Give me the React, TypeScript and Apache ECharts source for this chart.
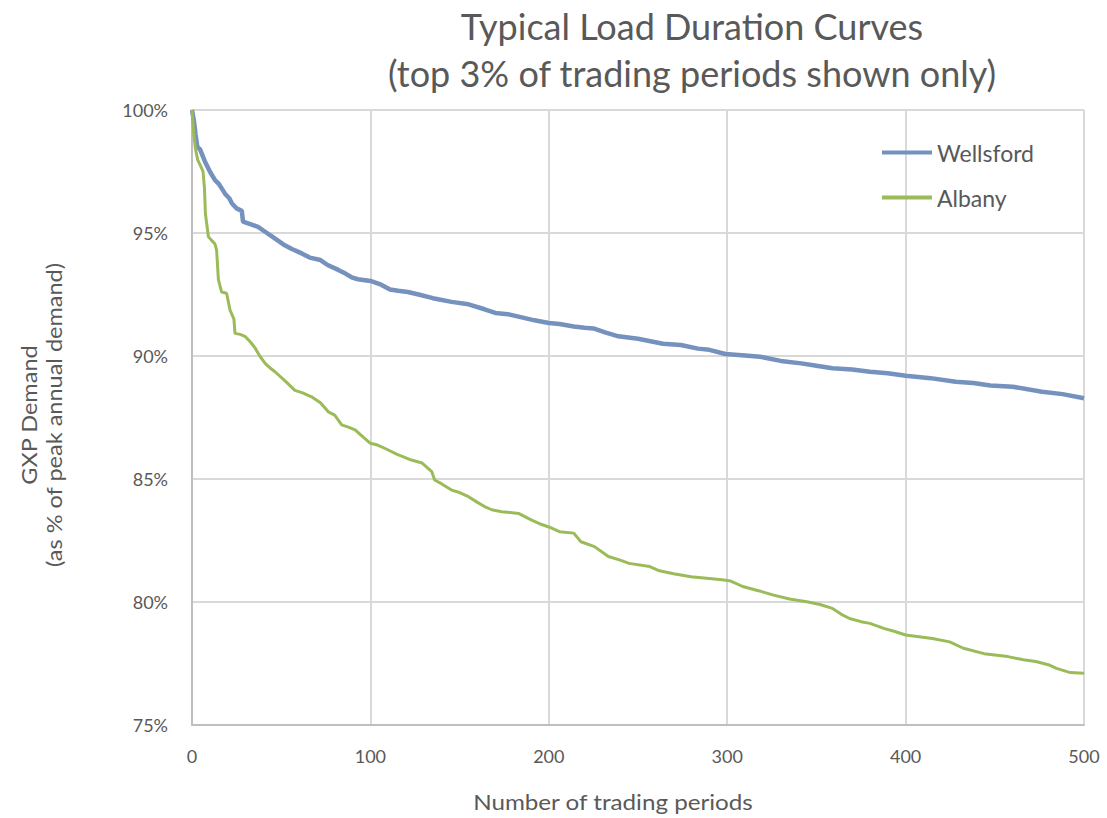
import React, { useEffect, useRef } from "react";
import * as echarts from "echarts";

const titleLines = ["Typical Load Duration Curves", "(top 3% of trading periods shown only)"];
const xAxisName = "Number of trading periods";
const yAxisName = "GXP Demand\n(as % of peak annual demand)";
const seriesNames = ["Wellsford", "Albany"];

const wellsfordX = [0, 1, 2, 3, 4.5, 7.3, 10, 12.9, 15, 18.5, 21, 22.4, 25, 27.9, 28.6, 33, 37, 41, 46, 52, 56, 61.5, 66, 72, 76, 82, 86, 89.5, 93, 100, 106, 111, 115.5, 121, 127, 135, 145.5, 155, 164, 170, 177, 183, 192, 200, 206, 214, 220, 225, 232, 239, 250, 264, 274, 283.6, 290, 299, 310, 318.5, 330, 341.5, 350, 359, 370, 380, 390, 400, 414, 428, 438, 447.5, 460, 476.5, 488, 500];
const wellsfordY = [100, 99.6, 99.0, 98.5, 98.4, 97.9, 97.5, 97.15, 97.0, 96.6, 96.4, 96.2, 96.0, 95.9, 95.46, 95.35, 95.25, 95.05, 94.8, 94.5, 94.35, 94.17, 94.0, 93.9, 93.7, 93.5, 93.35, 93.2, 93.12, 93.05, 92.9, 92.7, 92.65, 92.6, 92.5, 92.35, 92.2, 92.1, 91.9, 91.75, 91.7, 91.6, 91.45, 91.34, 91.3, 91.2, 91.15, 91.12, 90.95, 90.8, 90.7, 90.5, 90.45, 90.3, 90.25, 90.08, 90.02, 89.97, 89.8, 89.7, 89.6, 89.5, 89.45, 89.36, 89.3, 89.2, 89.1, 88.95, 88.9, 88.8, 88.75, 88.55, 88.45, 88.28];

const albanyX = [0, 1, 2, 3.2, 5, 6.2, 7.0, 7.5, 8.2, 9.2, 11, 12.9, 13.8, 14.8, 16.6, 19.4, 21.3, 23.5, 24.1, 27, 29.7, 33, 35.3, 38, 41, 44, 46.5, 52, 57.7, 62, 67, 72, 76.4, 80, 83.9, 88, 91.4, 96, 100, 104, 108, 115, 123, 129, 134.4, 136, 140, 145.5, 150, 155, 160, 164, 168, 173.6, 183, 190.4, 196, 200, 206, 214, 218, 225.6, 233.4, 240, 245, 256.6, 262, 270, 279.7, 297, 302, 308.7, 318, 326, 335, 345.4, 352, 359, 364, 368.6, 375, 380, 387.8, 394, 400, 415, 424.7, 432.4, 444, 450, 457.4, 466, 473, 480, 484.6, 492.3, 500];
const albanyY = [100, 99.0, 98.4, 97.97, 97.7, 97.5, 96.8, 95.8, 95.4, 94.85, 94.7, 94.55, 94.3, 93.1, 92.6, 92.55, 91.87, 91.5, 90.92, 90.88, 90.8, 90.55, 90.33, 90.0, 89.7, 89.5, 89.36, 89.0, 88.6, 88.5, 88.34, 88.1, 87.73, 87.6, 87.2, 87.1, 87.0, 86.7, 86.45, 86.38, 86.25, 86.0, 85.77, 85.65, 85.3, 84.96, 84.8, 84.55, 84.45, 84.28, 84.05, 83.88, 83.75, 83.67, 83.6, 83.33, 83.15, 83.05, 82.86, 82.8, 82.45, 82.25, 81.85, 81.7, 81.57, 81.44, 81.27, 81.15, 81.03, 80.9, 80.85, 80.63, 80.45, 80.28, 80.12, 80.0, 79.9, 79.74, 79.5, 79.33, 79.2, 79.13, 78.93, 78.8, 78.66, 78.52, 78.38, 78.12, 77.9, 77.85, 77.78, 77.65, 77.58, 77.45, 77.3, 77.13, 77.1];

const FONT = "Lato";
const TEXT = "#595959";

export default function App() {
  const ref = useRef<HTMLDivElement>(null);
  useEffect(() => {
    document.body.style.margin = "0";
    const chart = echarts.init(ref.current!, null, { renderer: "svg" });
    const pairs = (xs: number[], ys: number[]) => xs.map((x, i) => [x, ys[i]]);
    chart.setOption({
      animation: false,
      textStyle: { fontFamily: FONT, color: TEXT },
      grid: { left: 192, right: 23, top: 110, bottom: 93, containLabel: false },
      xAxis: {
        type: "value",
        min: 0,
        max: 500,
        interval: 100,
        axisLine: { show: true, lineStyle: { color: "#bfbfbf", width: 2 } },
        axisTick: { show: false },
        axisLabel: { color: TEXT, fontSize: 18, fontFamily: FONT, margin: 22 },
        splitLine: { show: true, lineStyle: { color: "#d9d9d9", width: 2 } },
      },
      yAxis: {
        type: "value",
        min: 75,
        max: 100,
        interval: 5,
        axisLine: { show: true, lineStyle: { color: "#bfbfbf", width: 2 } },
        axisTick: { show: false },
        axisLabel: { color: TEXT, fontSize: 18, fontFamily: FONT, margin: 24, formatter: "{value}%" },
        splitLine: { show: true, lineStyle: { color: "#d9d9d9", width: 2 } },
      },
      legend: {
        orient: "vertical",
        left: 882,
        top: 141,
        padding: 0,
        itemWidth: 50,
        itemHeight: 4,
        itemGap: 22,
        icon: "rect",
        textStyle: { color: TEXT, fontSize: 23, fontFamily: FONT },
        data: seriesNames,
      },
      graphic: [
        {
          type: "text",
          x: 692,
          y: 49,
          style: {
            text: titleLines.join("\n"),
            x: 0,
            y: 0,
            fontSize: 36,
            fontFamily: FONT,
            fill: TEXT,
            textAlign: "center",
            textVerticalAlign: "middle",
            lineHeight: 47,
          },
        },
        {
          type: "text",
          x: 613,
          y: 801,
          scaleX: 1.1,
          style: {
            text: xAxisName,
            x: 0,
            y: 0,
            fontSize: 22,
            fontFamily: FONT,
            fill: TEXT,
            textAlign: "center",
            textVerticalAlign: "middle",
          },
        },
        {
          type: "text",
          x: 41,
          y: 415,
          rotation: Math.PI / 2,
          scaleX: 1.12,
          style: {
            text: yAxisName,
            x: 0,
            y: 0,
            fontSize: 21,
            fontFamily: FONT,
            fill: TEXT,
            textAlign: "center",
            textVerticalAlign: "middle",
            lineHeight: 25,
          },
        },
      ],
      series: [
        {
          name: seriesNames[0],
          type: "line",
          data: pairs(wellsfordX, wellsfordY),
          showSymbol: false,
          symbol: "none",
          itemStyle: { color: "#7592be" },
          lineStyle: { color: "#7592be", width: 4.5 },
        },
        {
          name: seriesNames[1],
          type: "line",
          data: pairs(albanyX, albanyY),
          showSymbol: false,
          symbol: "none",
          itemStyle: { color: "#9bbb59" },
          lineStyle: { color: "#9bbb59", width: 3 },
        },
      ],
    });
    return () => chart.dispose();
  }, []);
  return <div ref={ref} style={{ width: 1107, height: 818 }} />;
}
